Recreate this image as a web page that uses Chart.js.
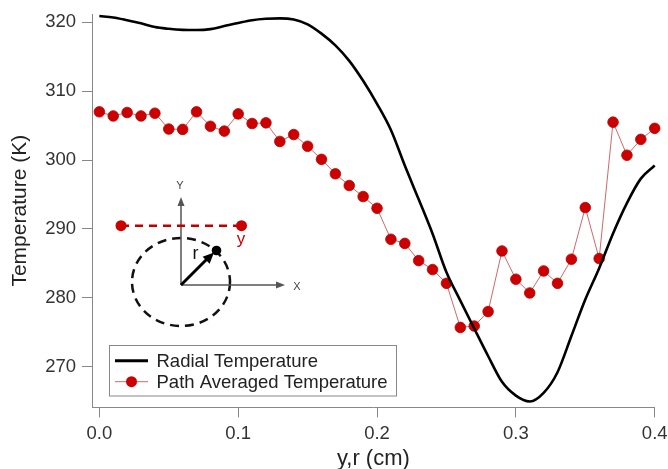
<!DOCTYPE html>
<html><head><meta charset="utf-8">
<script src="https://cdn.jsdelivr.net/npm/chart.js@4"></script>
<style>html,body{margin:0;padding:0;background:#fff}canvas{display:block}</style>
</head><body>
<canvas id="c" width="668" height="469"></canvas>
<script>
// ---- data ----
const positions = [0.00,0.01,0.02,0.03,0.04,0.05,0.06,0.07,0.08,0.09,
  0.10,0.11,0.12,0.13,0.14,0.15,0.16,0.17,0.18,0.19,
  0.20,0.21,0.22,0.23,0.24,0.25,0.26,0.27,0.28,0.29,
  0.30,0.31,0.32,0.33,0.34,0.35,0.36,0.37,0.38,0.39,0.40];
const radialTemp = [320.9,320.7,320.3,319.85,319.3,319.05,318.9,318.87,319.0,319.45,
  319.9,320.3,320.5,320.57,320.4,319.7,318.35,316.65,314.4,311.5,
  308.15,304.35,299.2,294.3,289.3,283.7,279.6,275.55,271.55,267.8,
  265.8,264.95,266.2,269.2,274.45,279.75,284.3,289.35,293.75,297.3,299.2];
const pathAvgTemp = [307.0,306.4,306.9,306.4,306.8,304.5,304.45,307.0,304.9,304.2,
  306.7,305.3,305.4,302.7,303.7,302.0,300.1,298.0,296.3,294.7,
  293.0,288.5,287.9,285.4,284.1,282.1,275.7,275.9,278.0,286.8,
  282.7,280.7,283.9,282.1,285.6,293.1,285.7,305.5,300.7,303.0,304.6];
const seriesNames = ['Radial Temperature','Path Averaged Temperature'];
const xTicks = [0.0,0.1,0.2,0.3,0.4];
const yTicks = [270,280,290,300,310,320];
const xTitle = 'y,r (cm)';
const yTitle = 'Temperature (K)';

const FONT = '"Liberation Sans", Arial, sans-serif';
Chart.defaults.font.family = FONT;

// inset schematic
const insetPlugin = {
  id: 'inset',
  afterDatasetsDraw(chart) {
    const ctx = chart.ctx;
    ctx.save();
    const ox = 181, oy = 285;
    // dashed circle
    ctx.strokeStyle = '#111'; ctx.lineWidth = 2.5; ctx.setLineDash([9, 6]);
    ctx.beginPath(); ctx.ellipse(ox, 282, 49, 44, 0, 0, Math.PI * 2); ctx.stroke();
    ctx.setLineDash([]);
    // axes
    ctx.strokeStyle = '#555'; ctx.fillStyle = '#555'; ctx.lineWidth = 1.5;
    ctx.beginPath(); ctx.moveTo(ox, oy); ctx.lineTo(ox, 203); ctx.moveTo(ox, oy); ctx.lineTo(278, oy); ctx.stroke();
    ctx.beginPath(); ctx.moveTo(ox, 197); ctx.lineTo(ox - 3.5, 206); ctx.lineTo(ox + 3.5, 206); ctx.closePath(); ctx.fill();
    ctx.beginPath(); ctx.moveTo(285, oy); ctx.lineTo(276, oy - 3.5); ctx.lineTo(276, oy + 3.5); ctx.closePath(); ctx.fill();
    ctx.font = '11px ' + FONT; ctx.textAlign = 'center'; ctx.textBaseline = 'middle';
    ctx.fillStyle = '#444';
    ctx.fillText('Y', ox - 1, 186);
    ctx.fillText('X', 297, 287);
    // red dashed path
    ctx.strokeStyle = '#c00000'; ctx.lineWidth = 2.5; ctx.setLineDash([8, 6]);
    ctx.beginPath(); ctx.moveTo(121, 225.7); ctx.lineTo(241.5, 225.7); ctx.stroke();
    ctx.setLineDash([]);
    ctx.fillStyle = '#cc0000';
    [121, 241.5].forEach(px => { ctx.beginPath(); ctx.arc(px, 225.7, 5.5, 0, Math.PI * 2); ctx.fill(); });
    ctx.font = '17px ' + FONT; ctx.fillStyle = '#cc0000';
    ctx.fillText('y', 241, 239);
    // radius arrow
    ctx.strokeStyle = '#000'; ctx.fillStyle = '#000'; ctx.lineWidth = 3;
    ctx.beginPath(); ctx.moveTo(ox, oy); ctx.lineTo(208, 258); ctx.stroke();
    const ang = Math.atan2(250.7 - oy, 216 - ox);
    const tx = 214, ty = 252.5;
    ctx.beginPath(); ctx.moveTo(tx, ty);
    ctx.lineTo(tx - 11 * Math.cos(ang) + 5 * Math.sin(ang), ty - 11 * Math.sin(ang) - 5 * Math.cos(ang));
    ctx.lineTo(tx - 11 * Math.cos(ang) - 5 * Math.sin(ang), ty - 11 * Math.sin(ang) + 5 * Math.cos(ang));
    ctx.closePath(); ctx.fill();
    ctx.beginPath(); ctx.arc(216.5, 250.5, 4.8, 0, Math.PI * 2); ctx.fill();
    ctx.font = '18px ' + FONT; ctx.fillStyle = '#111';
    ctx.fillText('r', 195.5, 254);
    ctx.restore();
  }
};

// boxed legend inside plot area
const legendPlugin = {
  id: 'boxLegend',
  afterDatasetsDraw(chart) {
    const ctx = chart.ctx;
    ctx.save();
    const x0 = 109.5, y0 = 345.5, w = 287, h = 50.5;
    ctx.fillStyle = '#fff'; ctx.fillRect(x0, y0, w, h);
    ctx.strokeStyle = '#888'; ctx.lineWidth = 1; ctx.strokeRect(x0, y0, w, h);
    chart.data.datasets.forEach((ds, i) => {
      const cy = 360.7 + i * 21;
      ctx.strokeStyle = ds.borderColor; ctx.lineWidth = i === 0 ? 3 : 1;
      ctx.beginPath(); ctx.moveTo(115, cy); ctx.lineTo(148, cy); ctx.stroke();
      if (ds.pointRadius) {
        ctx.fillStyle = ds.pointBackgroundColor;
        ctx.beginPath(); ctx.arc(131.5, cy, 5.5, 0, Math.PI * 2); ctx.fill();
      }
      ctx.fillStyle = '#222'; ctx.font = '18.5px ' + FONT;
      ctx.textAlign = 'left'; ctx.textBaseline = 'middle';
      ctx.fillText(ds.label, 156.5, cy + 1);
    });
    ctx.restore();
  }
};

const axisGrid = {drawOnChartArea: false, drawTicks: true, tickLength: 10, color: '#888', lineWidth: 1};
const axisBorder = {color: '#888', width: 1};

new Chart(document.getElementById('c').getContext('2d'), {
  type: 'line',
  data: {
    datasets: [
      {
        label: seriesNames[0],
        data: positions.map((x, i) => ({x: x, y: radialTemp[i]})),
        borderColor: '#000', borderWidth: 2.6, pointRadius: 0, cubicInterpolationMode: 'monotone', fill: false, clip: false
      },
      {
        label: seriesNames[1],
        data: positions.map((x, i) => ({x: x, y: pathAvgTemp[i]})),
        borderColor: 'rgb(205,105,105)', borderWidth: 1, tension: 0, fill: false, clip: false,
        pointRadius: 5.3, pointBackgroundColor: '#cc0000', pointBorderColor: '#b80000', pointBorderWidth: 0.8
      }
    ]
  },
  options: {
    responsive: false, animation: false, devicePixelRatio: 1,
    layout: {padding: {top: 14, right: 13.3, left: 0, bottom: 0}},
    plugins: {legend: {display: false}, tooltip: {enabled: false}},
    scales: {
      x: {
        type: 'linear', min: -0.0053, max: 0.4,
        afterBuildTicks: s => { s.ticks = xTicks.map(v => ({value: v})); },
        afterFit: s => { s.height = 61.6; s.paddingLeft = 0; s.paddingRight = 0; },
        grid: axisGrid, border: axisBorder,
        ticks: {font: {size: 18.5}, color: '#333', padding: 5, maxRotation: 0, autoSkip: false,
                callback: v => Number(v).toFixed(1)},
        title: {display: true, text: xTitle, color: '#222', font: {size: 22, lineHeight: 0.9}, padding: {top: 0, bottom: 0}}
      },
      y: {
        type: 'linear', min: 264.09, max: 321.2,
        afterBuildTicks: s => { s.ticks = yTicks.map(v => ({value: v})); },
        afterFit: s => { s.width = 92; s.paddingTop = 0; s.paddingBottom = 0; },
        grid: axisGrid, border: axisBorder,
        ticks: {font: {size: 18.5}, color: '#333', padding: 6, autoSkip: false,
                callback: v => String(v)},
        title: {display: true, text: yTitle, color: '#222', font: {size: 21}, padding: {top: 8, bottom: 0}}
      }
    }
  },
  plugins: [insetPlugin, legendPlugin]
});
</script>
</body></html>
